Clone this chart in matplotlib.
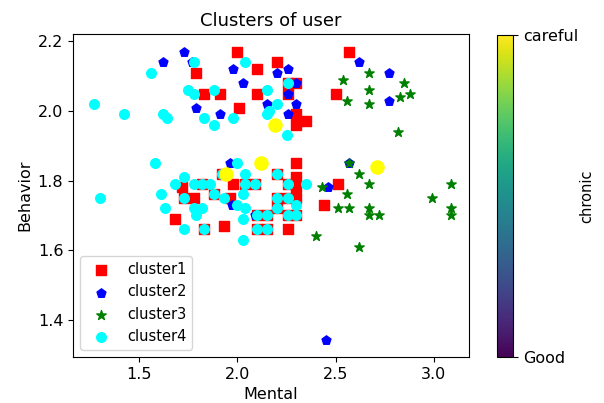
import numpy as np
import matplotlib
matplotlib.use("Agg")
import matplotlib.pyplot as plt

# cluster 1 (red squares)
c1_x = [2.00, 1.79, 1.83, 1.91, 2.01, 2.20, 2.10, 2.10, 2.26, 2.30, 2.26, 2.30, 2.30, 2.35, 2.50, 2.57,
        1.82, 1.73, 1.88, 1.83, 1.92, 2.04, 2.09, 2.20, 2.26, 2.20, 2.26, 2.10, 2.15, 2.26, 2.30, 2.10, 2.15, 2.20,
        1.72, 1.78, 1.68, 1.93, 1.98, 1.96, 2.30, 2.30, 2.30, 2.30, 2.44, 2.51, 2.26]
c1_y = [2.17, 2.11, 2.05, 2.05, 2.01, 2.14, 2.12, 2.05, 2.08, 2.08, 2.05, 1.99, 1.96, 1.97, 2.05, 2.17,
        1.79, 1.75, 1.76, 1.66, 1.82, 1.79, 1.79, 1.82, 1.79, 1.75, 1.75, 1.70, 1.70, 1.70, 1.70, 1.66, 1.66, 1.72,
        1.78, 1.75, 1.69, 1.67, 1.79, 1.75, 1.85, 1.81, 1.78, 1.75, 1.73, 1.79, 1.66]

# cluster 2 (blue pentagons)
c2_x = [1.73, 1.62, 1.77, 1.98, 2.03, 1.79, 1.91, 2.20, 2.26, 2.30, 2.26, 2.15, 2.30, 2.26, 2.62, 2.77, 2.77,
        1.96, 1.97, 2.20, 2.09, 2.46, 2.57, 2.45]
c2_y = [2.17, 2.14, 2.14, 2.12, 2.08, 2.01, 1.99, 2.11, 2.12, 2.08, 2.05, 2.02, 2.02, 1.99, 2.14, 2.11, 2.03,
        1.85, 1.73, 1.72, 1.70, 1.78, 1.85, 1.34]

# cluster 3 (green stars)
c3_x = [2.67, 2.54, 2.85, 2.67, 2.83, 2.88, 2.56, 2.67, 2.82,
        2.57, 2.62, 2.67, 2.43, 2.56, 2.51, 2.57, 2.67, 2.67, 2.72, 2.40, 2.62, 2.99, 3.09, 3.09, 3.09]
c3_y = [2.11, 2.09, 2.08, 2.06, 2.04, 2.05, 2.03, 2.02, 1.94,
        1.85, 1.82, 1.79, 1.78, 1.76, 1.72, 1.72, 1.72, 1.70, 1.70, 1.64, 1.61, 1.75, 1.79, 1.72, 1.70]

# cluster 4 (cyan circles)
c4_x = [1.27, 1.42, 1.56, 1.62, 1.64, 1.75, 1.78, 1.78, 1.83, 1.88, 1.88, 1.98, 2.04, 2.26, 2.15, 2.20, 2.16, 2.15, 2.25,
        1.30, 1.58, 1.73, 1.68, 1.78, 1.86, 1.61, 1.63, 1.78, 1.82, 1.79, 1.73, 1.93, 2.00, 2.04, 2.03, 2.00,
        2.04, 2.03, 2.03, 2.35, 2.30,
        1.82, 1.73, 1.88, 1.83, 1.92, 2.04, 2.09, 2.20, 2.26, 2.20, 2.26, 2.10, 2.15, 2.26, 2.30, 2.10, 2.15, 2.20]
c4_y = [2.02, 1.99, 2.11, 1.99, 1.98, 2.06, 2.14, 2.05, 1.98, 2.06, 1.96, 1.98, 2.14, 2.08, 2.06, 2.02, 2.00, 1.99, 1.93,
        1.75, 1.85, 1.81, 1.79, 1.79, 1.79, 1.76, 1.72, 1.72, 1.72, 1.70, 1.66, 1.75, 1.85, 1.82, 1.76, 1.73,
        1.72, 1.69, 1.63, 1.79, 1.73,
        1.79, 1.75, 1.76, 1.66, 1.82, 1.79, 1.79, 1.82, 1.79, 1.75, 1.75, 1.70, 1.70, 1.70, 1.70, 1.66, 1.66, 1.72]

# centroids
cent_x = [2.19, 1.94, 2.12, 2.71]
cent_y = [1.96, 1.82, 1.85, 1.84]

cbar_labels = ["Good", "careful"]

plt.rcParams["font.size"] = 11.5

fig = plt.figure(figsize=(6.04, 4.03), dpi=100)
ax = fig.add_axes([0.121, 0.114, 0.655, 0.802])

ax.scatter(c1_x, c1_y, s=55, c="red", marker="s", label="cluster1")
ax.scatter(c2_x, c2_y, s=45, c="blue", marker="p", label="cluster2")
ax.scatter(c3_x, c3_y, s=50, c="green", marker="*", label="cluster3")
ax.scatter(c4_x, c4_y, s=48, c="cyan", marker="o", label="cluster4")
ax.scatter(cent_x, cent_y, s=90, c="yellow", marker="o")

ax.set_xlim(1.163, 3.178)
ax.set_ylim(1.292, 2.222)
ax.set_xticks([1.5, 2.0, 2.5, 3.0])
ax.set_yticks([1.4, 1.6, 1.8, 2.0, 2.2])
ax.set_title("Clusters of user", fontsize=13)
ax.set_xlabel("Mental")
ax.set_ylabel("Behavior")
ax.legend(loc="lower left", fontsize=10.5)

cax = fig.add_axes([0.823, 0.114, 0.0265, 0.799])
sm = plt.cm.ScalarMappable(cmap="viridis", norm=plt.Normalize(0, 1))
cb = fig.colorbar(sm, cax=cax, ticks=[0, 1])
cb.ax.set_yticklabels(cbar_labels)
cb.set_label("chronic", labelpad=1, fontsize=10.5)

fig.savefig("out.png", dpi=100)
